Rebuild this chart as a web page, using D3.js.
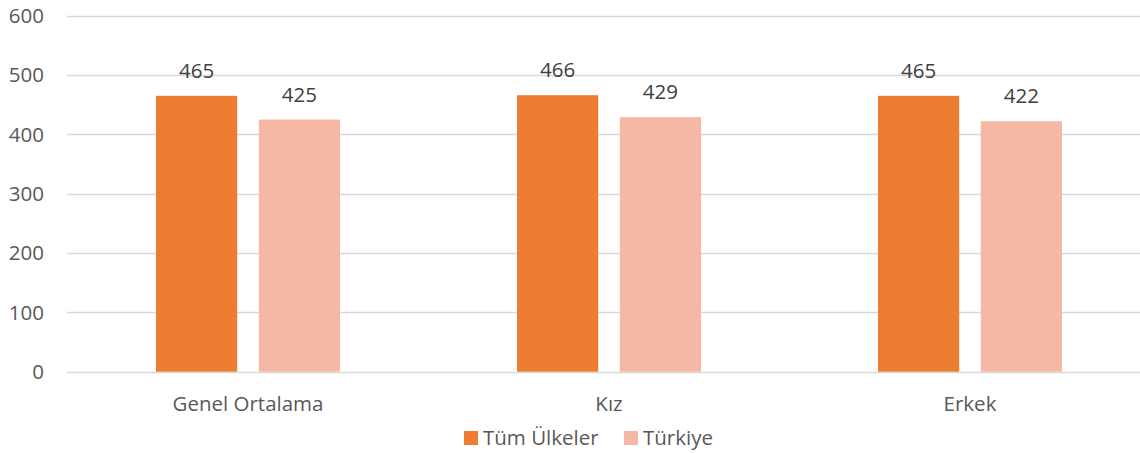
<!DOCTYPE html>
<html>
<head>
<meta charset="utf-8">
<script src="https://cdn.jsdelivr.net/npm/d3@7"></script>
<style>
  body { margin: 0; background: #fff; }
  svg { display: block; font-family: "Open Sans", sans-serif; }
</style>
</head>
<body>
<div class="canvas"></div>
<script>
var categories = ['Genel Ortalama', 'Kız', 'Erkek'];
var seriesNames = ['Tüm Ülkeler', 'Türkiye'];
var tumUlkeler = [465, 466, 465];
var turkiye = [425, 429, 422];
var yTicks = [0, 100, 200, 300, 400, 500, 600];
var colors = ['#ED7D31', '#F4B8A4'];

var width = 1140, height = 453;
var fontSize = 20.5;

var svg = d3.select('.canvas')
  .append('svg')
    .attr('width', width)
    .attr('height', height);

var x = d3.scaleBand()
  .domain(categories)
  .range([67.5, 1150.5])
  .paddingInner(0)
  .paddingOuter(0);

var xSub = d3.scaleBand()
  .domain(seriesNames)
  .range([x.bandwidth() / 2 - 92, x.bandwidth() / 2 + 92])
  .paddingInner(0.21)
  .paddingOuter(0);

var y = d3.scaleLinear()
  .domain([0, 600])
  .range([371.7, 15.7]);

// gridlines
svg.append('g')
  .selectAll('line')
  .data(yTicks)
  .enter()
  .append('line')
    .attr('x1', 67)
    .attr('x2', width)
    .attr('y1', function(d){ return Math.round(y(d)) + 0.5; })
    .attr('y2', function(d){ return Math.round(y(d)) + 0.5; })
    .attr('stroke', '#D9D9D9')
    .attr('stroke-width', 1.3);

// y tick labels
svg.append('g')
  .selectAll('text')
  .data(yTicks)
  .enter()
  .append('text')
    .attr('x', 44)
    .attr('y', function(d){ return y(d); })
    .attr('dy', '0.35em')
    .attr('text-anchor', 'end')
    .attr('font-size', fontSize)
    .attr('fill', '#595959')
    .text(function(d){ return d; });

var rows = categories.map(function(c, i){
  return { cat: c, values: [tumUlkeler[i], turkiye[i]] };
});

var groups = svg.append('g')
  .selectAll('g')
  .data(rows)
  .enter()
  .append('g')
    .attr('transform', function(d){ return 'translate(' + x(d.cat) + ',0)'; });

var bars = groups.selectAll('g')
  .data(function(d){
    return d.values.map(function(v, j){ return { name: seriesNames[j], value: v, j: j }; });
  })
  .enter()
  .append('g');

bars.append('rect')
  .attr('x', function(d){ return xSub(d.name); })
  .attr('width', xSub.bandwidth())
  .attr('y', function(d){ return y(d.value); })
  .attr('height', function(d){ return y(0) - y(d.value); })
  .attr('fill', function(d){ return colors[d.j]; });

bars.append('text')
  .attr('x', function(d){ return xSub(d.name) + xSub.bandwidth() / 2; })
  .attr('y', function(d){ return y(d.value) - 25; })
  .attr('dy', '0.35em')
  .attr('text-anchor', 'middle')
  .attr('font-size', fontSize)
  .attr('fill', '#404040')
  .text(function(d){ return d.value; });

// category labels
svg.append('g')
  .selectAll('text')
  .data(categories)
  .enter()
  .append('text')
    .attr('x', function(d){ return x(d) + x.bandwidth() / 2; })
    .attr('y', 404)
    .attr('dy', '0.35em')
    .attr('text-anchor', 'middle')
    .attr('font-size', fontSize)
    .attr('fill', '#595959')
    .text(function(d){ return d; });

// legend
var legendX = [464, 624];
var legend = svg.append('g')
  .selectAll('g')
  .data(seriesNames)
  .enter()
  .append('g')
    .attr('transform', function(d, i){ return 'translate(' + legendX[i] + ',431)'; });

legend.append('rect')
  .attr('width', 14)
  .attr('height', 14)
  .attr('fill', function(d, i){ return colors[i]; });

legend.append('text')
  .attr('x', 19)
  .attr('y', 7)
  .attr('dy', '0.35em')
  .attr('font-size', fontSize)
  .attr('fill', '#595959')
  .text(function(d){ return d; });
</script>
</body>
</html>
